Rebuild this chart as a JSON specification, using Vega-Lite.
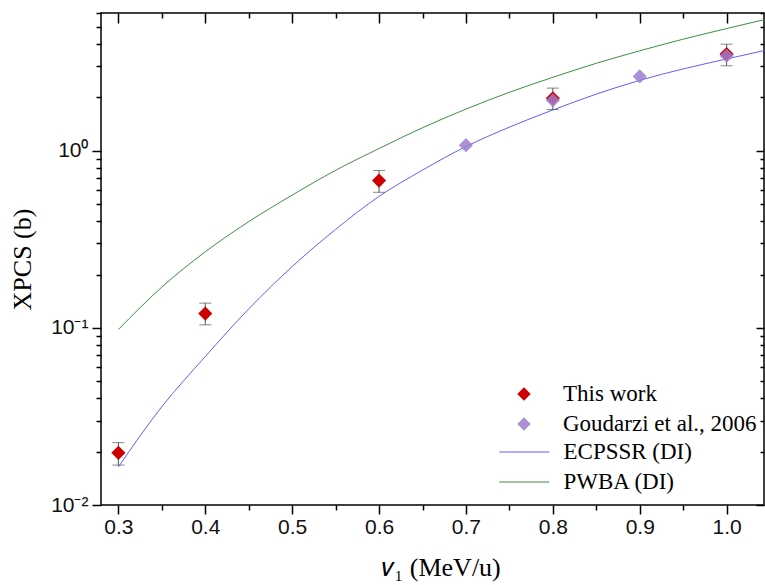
{
  "$schema": "https://vega.github.io/schema/vega-lite/v6.json",
  "width": 663,
  "height": 492,
  "autosize": {"type": "none"},
  "padding": {"left": 101, "top": 13, "right": 1, "bottom": 80},
  "background": "white",
  "config": {
    "view": {"stroke": "black", "strokeWidth": 1.5},
    "axis": {"domain": false, "grid": false, "tickColor": "black", "tickWidth": 1.5, "labelColor": "#111111", "labelFont": "Liberation Sans, Arial, sans-serif", "labelFontSize": 21, "titleColor": "black", "titleFont": "Liberation Serif, Times New Roman, serif", "titleFontSize": 26, "titleFontWeight": "normal"}
  },
  "datasets": {
    "curves": [
      {"x": 0.3, "y": 0.0164, "model": "ECPSSR (DI)"},
      {"x": 0.35, "y": 0.0359, "model": "ECPSSR (DI)"},
      {"x": 0.4, "y": 0.0689, "model": "ECPSSR (DI)"},
      {"x": 0.45, "y": 0.128, "model": "ECPSSR (DI)"},
      {"x": 0.5, "y": 0.222, "model": "ECPSSR (DI)"},
      {"x": 0.55, "y": 0.36, "model": "ECPSSR (DI)"},
      {"x": 0.6, "y": 0.553, "model": "ECPSSR (DI)"},
      {"x": 0.65, "y": 0.778, "model": "ECPSSR (DI)"},
      {"x": 0.7, "y": 1.057, "model": "ECPSSR (DI)"},
      {"x": 0.75, "y": 1.36, "model": "ECPSSR (DI)"},
      {"x": 0.8, "y": 1.7, "model": "ECPSSR (DI)"},
      {"x": 0.85, "y": 2.09, "model": "ECPSSR (DI)"},
      {"x": 0.9, "y": 2.5, "model": "ECPSSR (DI)"},
      {"x": 0.95, "y": 2.9, "model": "ECPSSR (DI)"},
      {"x": 1.0, "y": 3.3, "model": "ECPSSR (DI)"},
      {"x": 1.043, "y": 3.68, "model": "ECPSSR (DI)"},
      {"x": 0.3, "y": 0.098, "model": "PWBA (DI)"},
      {"x": 0.35, "y": 0.17, "model": "PWBA (DI)"},
      {"x": 0.4, "y": 0.269, "model": "PWBA (DI)"},
      {"x": 0.45, "y": 0.398, "model": "PWBA (DI)"},
      {"x": 0.5, "y": 0.562, "model": "PWBA (DI)"},
      {"x": 0.55, "y": 0.776, "model": "PWBA (DI)"},
      {"x": 0.6, "y": 1.03, "model": "PWBA (DI)"},
      {"x": 0.65, "y": 1.35, "model": "PWBA (DI)"},
      {"x": 0.7, "y": 1.72, "model": "PWBA (DI)"},
      {"x": 0.75, "y": 2.14, "model": "PWBA (DI)"},
      {"x": 0.8, "y": 2.6, "model": "PWBA (DI)"},
      {"x": 0.85, "y": 3.12, "model": "PWBA (DI)"},
      {"x": 0.9, "y": 3.67, "model": "PWBA (DI)"},
      {"x": 0.95, "y": 4.27, "model": "PWBA (DI)"},
      {"x": 1.0, "y": 4.9, "model": "PWBA (DI)"},
      {"x": 1.043, "y": 5.5, "model": "PWBA (DI)"}
    ],
    "pts": [
      {"x": 0.3, "y": 0.0197, "lo": 0.0168, "hi": 0.0225, "series": "This work"},
      {"x": 0.4, "y": 0.1205, "lo": 0.104, "hi": 0.138, "series": "This work"},
      {"x": 0.6, "y": 0.679, "lo": 0.583, "hi": 0.774, "series": "This work"},
      {"x": 0.8, "y": 1.98, "lo": 1.71, "hi": 2.26, "series": "This work"},
      {"x": 1.0, "y": 3.52, "lo": 3.02, "hi": 4.0, "series": "This work"},
      {"x": 0.7, "y": 1.076, "series": "Goudarzi et al., 2006"},
      {"x": 0.8, "y": 1.93, "series": "Goudarzi et al., 2006"},
      {"x": 0.9, "y": 2.63, "series": "Goudarzi et al., 2006"},
      {"x": 1.0, "y": 3.44, "series": "Goudarzi et al., 2006"}
    ]
  },
  "resolve": {"axis": {"x": "independent", "y": "independent"}},
  "layer": [
    {
      "data": {"name": "curves"},
      "mark": {"type": "line", "strokeWidth": 1, "interpolate": "monotone", "clip": true},
      "encoding": {
        "x": {"field": "x", "type": "quantitative", "scale": {"domain": [0.28, 1.043], "nice": false, "zero": false},
          "axis": {"orient": "bottom", "values": [0.3, 0.4, 0.5, 0.6, 0.7, 0.8, 0.9, 1.0], "format": ".1f", "tickSize": 9, "labelPadding": 2, "labelFont": "Liberation Sans", "labelFontSize": 21, "title": "𝑣₁ (MeV/u)", "titlePadding": 17, "titleX": 340}},
        "y": {"field": "y", "type": "quantitative", "scale": {"type": "log", "domain": [0.01, 6], "nice": false},
          "axis": {"orient": "left", "values": [0.01, 0.1, 1], "tickSize": 9, "labelPadding": 4, "labelFont": "Liberation Sans", "labelFontSize": 21, "labelExpr": "datum.value >= 0.5 ? '10⁰' : datum.value >= 0.05 ? '10⁻¹' : '10⁻²'", "title": "XPCS (b)", "titlePadding": 15}},
        "stroke": {"field": "model", "type": "nominal", "scale": {"domain": ["ECPSSR (DI)", "PWBA (DI)"], "range": ["#5f5fff", "#3f8f3f"]},
          "legend": {"orient": "none", "legendX": 411.75, "legendY": 427.5, "title": null, "symbolType": "M-4,0H4", "symbolSize": 156, "symbolStrokeWidth": 1, "labelOffset": 27.75, "rowPadding": 6, "padding": 0, "labelFont": "Liberation Serif, Times New Roman, serif", "labelFontSize": 23, "labelColor": "black", "labelLimit": 300}}
      }
    },
    {
      "data": {"name": "pts"},
      "transform": [{"filter": "datum.series == 'This work'"}],
      "mark": {"type": "rule", "color": "#555555", "strokeWidth": 1},
      "encoding": {
        "x": {"field": "x", "type": "quantitative", "axis": {"orient": "bottom", "values": [0.35, 0.45, 0.55, 0.65, 0.75, 0.85, 0.95], "labels": false, "tickSize": 5, "title": null}},
        "y": {"field": "lo", "type": "quantitative", "axis": {"orient": "left", "values": [0.02, 0.03, 0.04, 0.05, 0.06, 0.07, 0.08, 0.09, 0.2, 0.3, 0.4, 0.5, 0.6, 0.7, 0.8, 0.9, 2, 3, 4, 5, 6], "labels": false, "tickSize": 5, "title": null}},
        "y2": {"field": "hi"}
      }
    },
    {
      "data": {"name": "pts"},
      "transform": [{"filter": "datum.series == 'This work'"}],
      "mark": {"type": "tick", "orient": "horizontal", "color": "#555555", "thickness": 1, "size": 12},
      "encoding": {
        "x": {"field": "x", "type": "quantitative", "axis": {"orient": "top", "offset": -5, "values": [0.35, 0.45, 0.55, 0.65, 0.75, 0.85, 0.95], "labels": false, "tickSize": 5, "title": null}},
        "y": {"field": "hi", "type": "quantitative", "axis": {"orient": "right", "offset": -4, "values": [0.02, 0.03, 0.04, 0.05, 0.06, 0.07, 0.08, 0.09, 0.2, 0.3, 0.4, 0.5, 0.6, 0.7, 0.8, 0.9, 2, 3, 4, 5, 6], "labels": false, "tickSize": 4, "title": null}}
      }
    },
    {
      "data": {"name": "pts"},
      "transform": [{"filter": "datum.series == 'This work'"}],
      "mark": {"type": "tick", "orient": "horizontal", "color": "#555555", "thickness": 1, "size": 12},
      "encoding": {
        "x": {"field": "x", "type": "quantitative", "axis": null},
        "y": {"field": "lo", "type": "quantitative", "axis": null}
      }
    },
    {
      "data": {"name": "pts"},
      "mark": {"type": "point", "shape": "diamond", "filled": true, "size": 200, "strokeWidth": 0},
      "encoding": {
        "x": {"field": "x", "type": "quantitative", "axis": {"orient": "top", "offset": -10, "values": [0.3, 0.4, 0.5, 0.6, 0.7, 0.8, 0.9, 1.0], "labels": false, "tickSize": 10, "title": null}},
        "y": {"field": "y", "type": "quantitative", "axis": {"orient": "right", "offset": -8, "values": [0.01, 0.1, 1], "labels": false, "tickSize": 8, "title": null}},
        "fill": {"field": "series", "type": "nominal", "sort": null, "scale": {"domain": ["This work", "Goudarzi et al., 2006"], "range": ["#cc0000", "#9d7bcf"]},
          "legend": {"orient": "none", "legendX": 411.5, "legendY": 369.5, "title": null, "symbolType": "diamond", "symbolSize": 180, "symbolStrokeWidth": 0, "symbolOpacity": 1, "labelOffset": 27.5, "rowPadding": 6, "padding": 0, "labelFont": "Liberation Serif, Times New Roman, serif", "labelFontSize": 23, "labelColor": "black", "labelLimit": 300}},
        "opacity": {"field": "series", "type": "nominal", "scale": {"domain": ["This work", "Goudarzi et al., 2006"], "range": [1, 0.85]}, "legend": null}
      }
    }
  ]
}
